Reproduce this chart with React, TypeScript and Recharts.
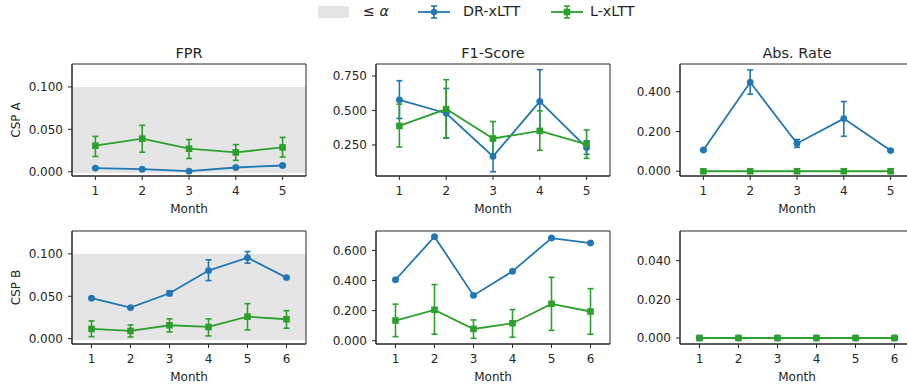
import React from "react";
import { LineChart, Line, XAxis, YAxis, ErrorBar, ReferenceArea } from "recharts";

const BLUE = "#1f77b4";
const GREEN = "#2ca02c";
const INK = "#262626";
const BAND = "#e5e5e5";
const FONT = "'DejaVu Sans', sans-serif";

const ALPHA = 0.1;
const ALPHA_LOW = -0.0015;

const monthsA = [1, 2, 3, 4, 5];
const monthsB = [1, 2, 3, 4, 5, 6];

// CSP A - FPR
const fprDrA = [0.0043, 0.003, 0.0007, 0.005, 0.0074];
const fprDrALo = [0.0035, 0.0024, 0.0002, 0.0042, 0.0064];
const fprDrAHi = [0.0051, 0.0036, 0.0012, 0.0058, 0.0084];
const fprLA = [0.0307, 0.039, 0.0272, 0.0228, 0.0287];
const fprLALo = [0.018, 0.023, 0.0157, 0.0134, 0.0173];
const fprLAHi = [0.0417, 0.0547, 0.038, 0.032, 0.0405];

// CSP A - F1
const f1DrA = [0.577, 0.48, 0.167, 0.566, 0.231];
const f1DrALo = [0.442, 0.3, 0.056, 0.34, 0.182];
const f1DrAHi = [0.716, 0.66, 0.28, 0.796, 0.28];
const f1LA = [0.388, 0.51, 0.297, 0.352, 0.255];
const f1LALo = [0.235, 0.303, 0.18, 0.211, 0.153];
const f1LAHi = [0.546, 0.723, 0.42, 0.497, 0.359];

// CSP A - abstention rate
const absDrA = [0.107, 0.448, 0.14, 0.265, 0.104];
const absDrALo = [0.101, 0.388, 0.12, 0.176, 0.1];
const absDrAHi = [0.113, 0.51, 0.16, 0.351, 0.108];
const absLA = [0, 0, 0, 0, 0];

// CSP B - FPR
const fprDrB = [0.0477, 0.0366, 0.0536, 0.0803, 0.0956, 0.072];
const fprDrBLo = [0.0467, 0.0358, 0.0508, 0.0685, 0.089, 0.0712];
const fprDrBHi = [0.0487, 0.0374, 0.0564, 0.093, 0.1027, 0.0728];
const fprLB = [0.0115, 0.0091, 0.0158, 0.0138, 0.026, 0.0229];
const fprLBLo = [0.0024, 0.002, 0.0079, 0.0032, 0.0103, 0.0123];
const fprLBHi = [0.0209, 0.0162, 0.0233, 0.0233, 0.0413, 0.033];

// CSP B - F1
const f1DrB = [0.405, 0.691, 0.301, 0.461, 0.682, 0.649];
const f1DrBLo = [0.4, 0.686, 0.296, 0.456, 0.677, 0.644];
const f1DrBHi = [0.41, 0.696, 0.306, 0.466, 0.687, 0.654];
const f1LB = [0.134, 0.205, 0.078, 0.116, 0.245, 0.194];
const f1LBLo = [0.027, 0.043, 0.016, 0.023, 0.069, 0.043];
const f1LBHi = [0.243, 0.373, 0.138, 0.207, 0.421, 0.346];

// CSP B - abstention rate
const absDrB = [0, 0, 0, 0, 0, 0];
const absLB = [0, 0, 0, 0, 0, 0];

const fprTicks = [0, 0.05, 0.1];
const f1TicksA = [0.25, 0.5, 0.75];
const f1TicksB = [0, 0.2, 0.4, 0.6];
const absTicksA = [0, 0.2, 0.4];
const absTicksB = [0, 0.02, 0.04];

interface PanelSpec {
  title?: string;
  rowLabel?: string;
  months: number[];
  dr: number[];
  drLo: number[];
  drHi: number[];
  l: number[];
  lLo: number[];
  lHi: number[];
  yDomain: [number, number];
  yTicks: number[];
  band?: boolean;
}

const panels: PanelSpec[][] = [
  [
    { title: "FPR", rowLabel: "CSP A", months: monthsA, dr: fprDrA, drLo: fprDrALo, drHi: fprDrAHi, l: fprLA, lLo: fprLALo, lHi: fprLAHi, yDomain: [-0.005, 0.127], yTicks: fprTicks, band: true },
    { title: "F1-Score", months: monthsA, dr: f1DrA, drLo: f1DrALo, drHi: f1DrAHi, l: f1LA, lLo: f1LALo, lHi: f1LAHi, yDomain: [0.025, 0.837], yTicks: f1TicksA },
    { title: "Abs. Rate", months: monthsA, dr: absDrA, drLo: absDrALo, drHi: absDrAHi, l: absLA, lLo: absLA, lHi: absLA, yDomain: [-0.024, 0.54], yTicks: absTicksA },
  ],
  [
    { rowLabel: "CSP B", months: monthsB, dr: fprDrB, drLo: fprDrBLo, drHi: fprDrBHi, l: fprLB, lLo: fprLBLo, lHi: fprLBHi, yDomain: [-0.0063, 0.127], yTicks: fprTicks, band: true },
    { months: monthsB, dr: f1DrB, drLo: f1DrBLo, drHi: f1DrBHi, l: f1LB, lLo: f1LBLo, lHi: f1LBHi, yDomain: [-0.022, 0.729], yTicks: f1TicksB },
    { months: monthsB, dr: absDrB, drLo: absDrB, drHi: absDrB, l: absLB, lLo: absLB, lHi: absLB, yDomain: [-0.0031, 0.0553], yTicks: absTicksB },
  ],
];

// layout (px)
const COL_LEFT = [72, 376, 680];
const ROW_TOP = [64, 231];
const ROW_H = [112, 113];
const PLOT_W = 234;
const AXIS_W = 62;
const X_H = 42;
const PAD_T = 2;
const PAD_R = 4;

const tickStyle = { fontSize: 12, fill: INK, fontFamily: FONT };

const Square = (props: any) => {
  const { cx, cy, index } = props;
  if (cx == null || cy == null) return <g key={index} />;
  return <rect key={index} x={cx - 3.3} y={cy - 3.3} width={6.6} height={6.6} fill={GREEN} />;
};

function Panel({ p, left, top, h }: { p: PanelSpec; left: number; top: number; h: number }) {
  const data = p.months.map((m, i) => ({
    month: m,
    dr: p.dr[i],
    drErr: [p.dr[i] - p.drLo[i], p.drHi[i] - p.dr[i]],
    l: p.l[i],
    lErr: [p.l[i] - p.lLo[i], p.lHi[i] - p.l[i]],
  }));
  const xDomain: [number, number] = [0.5, p.months.length + 0.5];

  return (
    <div style={{ position: "absolute", left: left - AXIS_W, top: top - PAD_T }}>
      {p.title && (
        <div
          style={{
            position: "absolute",
            left: AXIS_W,
            width: PLOT_W,
            top: -17,
            textAlign: "center",
            fontSize: 14.5,
            lineHeight: "17px",
            color: INK,
            fontFamily: FONT,
          }}
        >
          {p.title}
        </div>
      )}
      <LineChart
        width={PLOT_W + AXIS_W + PAD_R}
        height={h + PAD_T + X_H}
        data={data}
        margin={{ top: PAD_T, right: PAD_R, bottom: 0, left: 0 }}
      >
        <XAxis
          type="number"
          dataKey="month"
          domain={xDomain}
          ticks={p.months}
          allowDataOverflow
          height={X_H}
          tick={tickStyle}
          tickSize={4}
          tickMargin={6}
          tickLine={{ stroke: INK }}
          axisLine={{ stroke: INK }}
          label={{ value: "Month", position: "insideBottom", offset: 5.5, fill: INK, fontSize: 12, fontFamily: FONT }}
        />
        <YAxis
          type="number"
          domain={p.yDomain}
          ticks={p.yTicks}
          allowDataOverflow
          width={AXIS_W}
          tick={tickStyle}
          tickSize={4}
          tickMargin={5}
          tickLine={{ stroke: INK }}
          axisLine={{ stroke: INK }}
          tickFormatter={(v: number) => v.toFixed(3)}
          label={
            p.rowLabel
              ? {
                  value: p.rowLabel,
                  angle: -90,
                  position: "insideLeft",
                  offset: 6,
                  fill: INK,
                  fontSize: 12,
                  fontFamily: FONT,
                  style: { textAnchor: "middle" },
                }
              : undefined
          }
        />
        {p.band && <ReferenceArea y1={ALPHA_LOW} y2={ALPHA} fill={BAND} fillOpacity={1} stroke="none" />}
        <Line
          dataKey="dr"
          stroke={BLUE}
          strokeWidth={1.8}
          dot={{ r: 3.2, fill: BLUE, stroke: BLUE, strokeWidth: 0.5 }}
          activeDot={false}
          isAnimationActive={false}
        >
          <ErrorBar dataKey="drErr" direction="y" width={3} stroke={BLUE} strokeWidth={1.6} isAnimationActive={false} />
        </Line>
        <Line
          dataKey="l"
          stroke={GREEN}
          strokeWidth={1.8}
          dot={Square}
          activeDot={false}
          isAnimationActive={false}
        >
          <ErrorBar dataKey="lErr" direction="y" width={3} stroke={GREEN} strokeWidth={1.6} isAnimationActive={false} />
        </Line>
        {/* axes frame (top and right spines) */}
        <ReferenceArea
          x1={xDomain[0]}
          x2={xDomain[1]}
          y1={p.yDomain[0]}
          y2={p.yDomain[1]}
          fill="none"
          stroke={INK}
          strokeWidth={1}
          ifOverflow="visible"
        />
      </LineChart>
    </div>
  );
}

function LegendHandle({ color, square }: { color: string; square?: boolean }) {
  return (
    <svg width={32} height={16} style={{ display: "block" }}>
      <line x1={0} y1={8} x2={32} y2={8} stroke={color} strokeWidth={1.8} />
      <line x1={16} y1={2} x2={16} y2={14} stroke={color} strokeWidth={1.6} />
      <line x1={13} y1={2} x2={19} y2={2} stroke={color} strokeWidth={1.6} />
      <line x1={13} y1={14} x2={19} y2={14} stroke={color} strokeWidth={1.6} />
      {square ? (
        <rect x={12.7} y={4.7} width={6.6} height={6.6} fill={color} />
      ) : (
        <circle cx={16} cy={8} r={3.2} fill={color} />
      )}
    </svg>
  );
}

const legendText: React.CSSProperties = {
  position: "absolute",
  top: 3,
  fontSize: 14.3,
  lineHeight: "17px",
  color: INK,
  fontFamily: FONT,
  whiteSpace: "nowrap",
};

export default function App() {
  return (
    <div
      style={{
        position: "absolute",
        left: 0,
        top: 0,
        width: 907,
        height: 385,
        overflow: "hidden",
        background: "#fff",
        fontFamily: FONT,
      }}
    >
      {/* figure legend */}
      <div style={{ position: "absolute", left: 318, top: 6, width: 31, height: 11.5, background: BAND }} />
      <div style={{ ...legendText, left: 363 }}>
        ≤ <i>α</i>
      </div>
      <div style={{ position: "absolute", left: 418, top: 4 }}>
        <LegendHandle color={BLUE} />
      </div>
      <div style={{ ...legendText, left: 463 }}>DR-xLTT</div>
      <div style={{ position: "absolute", left: 551, top: 4 }}>
        <LegendHandle color={GREEN} square />
      </div>
      <div style={{ ...legendText, left: 590 }}>L-xLTT</div>

      {panels.map((row, r) =>
        row.map((p, c) => (
          <Panel key={`${r}-${c}`} p={p} left={COL_LEFT[c]} top={ROW_TOP[r]} h={ROW_H[r]} />
        ))
      )}
    </div>
  );
}
